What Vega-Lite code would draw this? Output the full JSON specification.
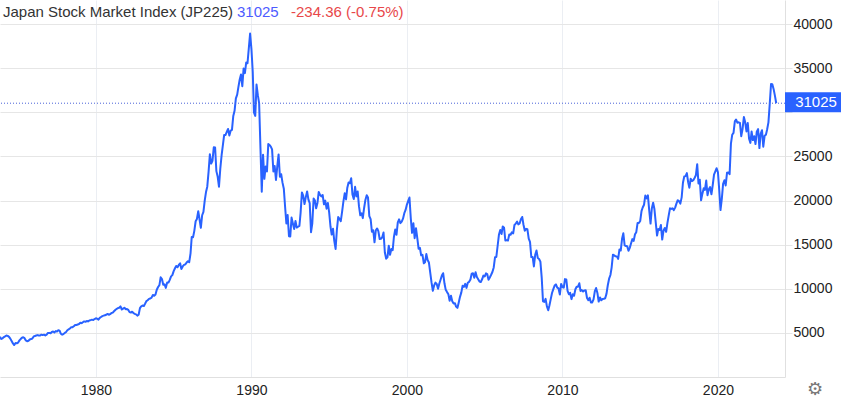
{
"$schema":"https://vega.github.io/schema/vega-lite/v6.json",
"width":785,"height":377,
"autosize":{"type":"none"},
"padding":{"left":0,"top":0,"right":56,"bottom":23},
"background":"white",
"config":{"view":{"stroke":null},"font":"Liberation Sans"},
"datasets":{"nk":[
{"d":"1973-11-01","v":4550},{"d":"1973-12-01","v":4306},
{"d":"1974-01-01","v":4390},{"d":"1974-02-01","v":4520},{"d":"1974-03-01","v":4600},{"d":"1974-04-01","v":4700},{"d":"1974-05-01","v":4660},{"d":"1974-06-01","v":4550},{"d":"1974-07-01","v":4350},{"d":"1974-08-01","v":4080},{"d":"1974-09-01","v":3800},{"d":"1974-10-01","v":3620},{"d":"1974-11-01","v":3850},{"d":"1974-12-01","v":3817},
{"d":"1975-01-01","v":3900},{"d":"1975-02-01","v":4150},{"d":"1975-03-01","v":4300},{"d":"1975-04-01","v":4450},{"d":"1975-05-01","v":4500},{"d":"1975-06-01","v":4400},{"d":"1975-07-01","v":4150},{"d":"1975-08-01","v":4050},{"d":"1975-09-01","v":4100},{"d":"1975-10-01","v":4250},{"d":"1975-11-01","v":4300},{"d":"1975-12-01","v":4359},
{"d":"1976-01-01","v":4600},{"d":"1976-02-01","v":4650},{"d":"1976-03-01","v":4700},{"d":"1976-04-01","v":4750},{"d":"1976-05-01","v":4700},{"d":"1976-06-01","v":4700},{"d":"1976-07-01","v":4800},{"d":"1976-08-01","v":4750},{"d":"1976-09-01","v":4800},{"d":"1976-10-01","v":4700},{"d":"1976-11-01","v":4800},{"d":"1976-12-01","v":4990},
{"d":"1977-01-01","v":5000},{"d":"1977-02-01","v":4950},{"d":"1977-03-01","v":5100},{"d":"1977-04-01","v":5150},{"d":"1977-05-01","v":5050},{"d":"1977-06-01","v":5200},{"d":"1977-07-01","v":5150},{"d":"1977-08-01","v":5300},{"d":"1977-09-01","v":5250},{"d":"1977-10-01","v":4900},{"d":"1977-11-01","v":4800},{"d":"1977-12-01","v":4866},
{"d":"1978-01-01","v":5000},{"d":"1978-02-01","v":5100},{"d":"1978-03-01","v":5300},{"d":"1978-04-01","v":5400},{"d":"1978-05-01","v":5500},{"d":"1978-06-01","v":5650},{"d":"1978-07-01","v":5650},{"d":"1978-08-01","v":5750},{"d":"1978-09-01","v":5900},{"d":"1978-10-01","v":5900},{"d":"1978-11-01","v":5950},{"d":"1978-12-01","v":6001},
{"d":"1979-01-01","v":6150},{"d":"1979-02-01","v":6100},{"d":"1979-03-01","v":6200},{"d":"1979-04-01","v":6300},{"d":"1979-05-01","v":6250},{"d":"1979-06-01","v":6350},{"d":"1979-07-01","v":6300},{"d":"1979-08-01","v":6400},{"d":"1979-09-01","v":6450},{"d":"1979-10-01","v":6500},{"d":"1979-11-01","v":6450},{"d":"1979-12-01","v":6569},
{"d":"1980-01-01","v":6650},{"d":"1980-02-01","v":6600},{"d":"1980-03-01","v":6500},{"d":"1980-04-01","v":6700},{"d":"1980-05-01","v":6800},{"d":"1980-06-01","v":6900},{"d":"1980-07-01","v":6950},{"d":"1980-08-01","v":7000},{"d":"1980-09-01","v":7050},{"d":"1980-10-01","v":7150},{"d":"1980-11-01","v":7050},{"d":"1980-12-01","v":7116},
{"d":"1981-01-01","v":7250},{"d":"1981-02-01","v":7300},{"d":"1981-03-01","v":7450},{"d":"1981-04-01","v":7600},{"d":"1981-05-01","v":7700},{"d":"1981-06-01","v":7800},{"d":"1981-07-01","v":7850},{"d":"1981-08-01","v":8000},{"d":"1981-09-01","v":7650},{"d":"1981-10-01","v":7750},{"d":"1981-11-01","v":7850},{"d":"1981-12-01","v":7681},
{"d":"1982-01-01","v":7700},{"d":"1982-02-01","v":7600},{"d":"1982-03-01","v":7350},{"d":"1982-04-01","v":7300},{"d":"1982-05-01","v":7400},{"d":"1982-06-01","v":7250},{"d":"1982-07-01","v":7150},{"d":"1982-08-01","v":7100},{"d":"1982-09-01","v":6950},{"d":"1982-10-01","v":7050},{"d":"1982-11-01","v":7800},{"d":"1982-12-01","v":8016},
{"d":"1983-01-01","v":8100},{"d":"1983-02-01","v":8050},{"d":"1983-03-01","v":8300},{"d":"1983-04-01","v":8600},{"d":"1983-05-01","v":8700},{"d":"1983-06-01","v":8850},{"d":"1983-07-01","v":8900},{"d":"1983-08-01","v":9000},{"d":"1983-09-01","v":9300},{"d":"1983-10-01","v":9200},{"d":"1983-11-01","v":9350},{"d":"1983-12-01","v":9893},
{"d":"1984-01-01","v":10200},{"d":"1984-02-01","v":10400},{"d":"1984-03-01","v":11300},{"d":"1984-04-01","v":11100},{"d":"1984-05-01","v":10450},{"d":"1984-06-01","v":10500},{"d":"1984-07-01","v":10100},{"d":"1984-08-01","v":10700},{"d":"1984-09-01","v":10700},{"d":"1984-10-01","v":11000},{"d":"1984-11-01","v":11400},{"d":"1984-12-01","v":11542},
{"d":"1985-01-01","v":11990},{"d":"1985-02-01","v":12320},{"d":"1985-03-01","v":12580},{"d":"1985-04-01","v":12430},{"d":"1985-05-01","v":12700},{"d":"1985-06-01","v":12880},{"d":"1985-07-01","v":12240},{"d":"1985-08-01","v":12530},{"d":"1985-09-01","v":12700},{"d":"1985-10-01","v":12770},{"d":"1985-11-01","v":12970},{"d":"1985-12-01","v":13113},
{"d":"1986-01-01","v":13020},{"d":"1986-02-01","v":14000},{"d":"1986-03-01","v":15860},{"d":"1986-04-01","v":15830},{"d":"1986-05-01","v":16560},{"d":"1986-06-01","v":17650},{"d":"1986-07-01","v":17910},{"d":"1986-08-01","v":18790},{"d":"1986-09-01","v":17850},{"d":"1986-10-01","v":16910},{"d":"1986-11-01","v":18330},{"d":"1986-12-01","v":18701},
{"d":"1987-01-01","v":20020},{"d":"1987-02-01","v":21000},{"d":"1987-03-01","v":21570},{"d":"1987-04-01","v":23270},{"d":"1987-05-01","v":25240},{"d":"1987-06-01","v":24180},{"d":"1987-07-01","v":24490},{"d":"1987-08-01","v":26030},{"d":"1987-09-01","v":26010},{"d":"1987-10-01","v":23330},{"d":"1987-11-01","v":22690},{"d":"1987-12-01","v":21564},
{"d":"1988-01-01","v":23620},{"d":"1988-02-01","v":25130},{"d":"1988-03-01","v":26260},{"d":"1988-04-01","v":27430},{"d":"1988-05-01","v":27420},{"d":"1988-06-01","v":27770},{"d":"1988-07-01","v":28100},{"d":"1988-08-01","v":27370},{"d":"1988-09-01","v":27920},{"d":"1988-10-01","v":28000},{"d":"1988-11-01","v":29580},{"d":"1988-12-01","v":30159},
{"d":"1989-01-01","v":31580},{"d":"1989-02-01","v":31990},{"d":"1989-03-01","v":32840},{"d":"1989-04-01","v":33710},{"d":"1989-05-01","v":34270},{"d":"1989-06-01","v":32950},{"d":"1989-07-01","v":34950},{"d":"1989-08-01","v":34430},{"d":"1989-09-01","v":35640},{"d":"1989-10-01","v":35550},{"d":"1989-11-01","v":37270},{"d":"1989-12-01","v":38916},
{"d":"1990-01-01","v":37189},{"d":"1990-02-01","v":34592},{"d":"1990-03-01","v":29980},{"d":"1990-04-01","v":29584},{"d":"1990-05-01","v":33131},{"d":"1990-06-01","v":31940},{"d":"1990-07-01","v":31036},{"d":"1990-08-01","v":25978},{"d":"1990-09-01","v":20984},{"d":"1990-10-01","v":25194},{"d":"1990-11-01","v":22455},{"d":"1990-12-01","v":23849},
{"d":"1991-01-01","v":23293},{"d":"1991-02-01","v":26409},{"d":"1991-03-01","v":26292},{"d":"1991-04-01","v":26111},{"d":"1991-05-01","v":25790},{"d":"1991-06-01","v":23291},{"d":"1991-07-01","v":23900},{"d":"1991-08-01","v":22336},{"d":"1991-09-01","v":23916},{"d":"1991-10-01","v":25222},{"d":"1991-11-01","v":22687},{"d":"1991-12-01","v":22984},
{"d":"1992-01-01","v":22023},{"d":"1992-02-01","v":21339},{"d":"1992-03-01","v":19346},{"d":"1992-04-01","v":17391},{"d":"1992-05-01","v":18348},{"d":"1992-06-01","v":15952},{"d":"1992-07-01","v":15910},{"d":"1992-08-01","v":18061},{"d":"1992-09-01","v":17399},{"d":"1992-10-01","v":16767},{"d":"1992-11-01","v":17684},{"d":"1992-12-01","v":16925},
{"d":"1993-01-01","v":17024},{"d":"1993-02-01","v":17113},{"d":"1993-03-01","v":18591},{"d":"1993-04-01","v":20919},{"d":"1993-05-01","v":20552},{"d":"1993-06-01","v":19591},{"d":"1993-07-01","v":20380},{"d":"1993-08-01","v":21027},{"d":"1993-09-01","v":20106},{"d":"1993-10-01","v":19703},{"d":"1993-11-01","v":16408},{"d":"1993-12-01","v":17417},
{"d":"1994-01-01","v":20229},{"d":"1994-02-01","v":19997},{"d":"1994-03-01","v":19112},{"d":"1994-04-01","v":19725},{"d":"1994-05-01","v":20974},{"d":"1994-06-01","v":20644},{"d":"1994-07-01","v":20462},{"d":"1994-08-01","v":20629},{"d":"1994-09-01","v":19564},{"d":"1994-10-01","v":19990},{"d":"1994-11-01","v":19076},{"d":"1994-12-01","v":19723},
{"d":"1995-01-01","v":18650},{"d":"1995-02-01","v":17053},{"d":"1995-03-01","v":16140},{"d":"1995-04-01","v":16807},{"d":"1995-05-01","v":15437},{"d":"1995-06-01","v":14517},{"d":"1995-07-01","v":16678},{"d":"1995-08-01","v":18117},{"d":"1995-09-01","v":17913},{"d":"1995-10-01","v":17655},{"d":"1995-11-01","v":18744},{"d":"1995-12-01","v":19868},
{"d":"1996-01-01","v":20813},{"d":"1996-02-01","v":20125},{"d":"1996-03-01","v":21407},{"d":"1996-04-01","v":22041},{"d":"1996-05-01","v":21956},{"d":"1996-06-01","v":22531},{"d":"1996-07-01","v":20693},{"d":"1996-08-01","v":20167},{"d":"1996-09-01","v":21556},{"d":"1996-10-01","v":20467},{"d":"1996-11-01","v":21020},{"d":"1996-12-01","v":19361},
{"d":"1997-01-01","v":18330},{"d":"1997-02-01","v":18557},{"d":"1997-03-01","v":18003},{"d":"1997-04-01","v":19151},{"d":"1997-05-01","v":20068},{"d":"1997-06-01","v":20605},{"d":"1997-07-01","v":20331},{"d":"1997-08-01","v":18229},{"d":"1997-09-01","v":17888},{"d":"1997-10-01","v":16459},{"d":"1997-11-01","v":16631},{"d":"1997-12-01","v":15259},
{"d":"1998-01-01","v":16628},{"d":"1998-02-01","v":16832},{"d":"1998-03-01","v":16527},{"d":"1998-04-01","v":15641},{"d":"1998-05-01","v":15671},{"d":"1998-06-01","v":15831},{"d":"1998-07-01","v":16379},{"d":"1998-08-01","v":14108},{"d":"1998-09-01","v":13406},{"d":"1998-10-01","v":13564},{"d":"1998-11-01","v":14884},{"d":"1998-12-01","v":13842},
{"d":"1999-01-01","v":14499},{"d":"1999-02-01","v":14368},{"d":"1999-03-01","v":15837},{"d":"1999-04-01","v":16702},{"d":"1999-05-01","v":16112},{"d":"1999-06-01","v":17530},{"d":"1999-07-01","v":17862},{"d":"1999-08-01","v":17437},{"d":"1999-09-01","v":17605},{"d":"1999-10-01","v":17942},{"d":"1999-11-01","v":18558},{"d":"1999-12-01","v":18934},
{"d":"2000-01-01","v":19540},{"d":"2000-02-01","v":19960},{"d":"2000-03-01","v":20337},{"d":"2000-04-01","v":17974},{"d":"2000-05-01","v":16332},{"d":"2000-06-01","v":17411},{"d":"2000-07-01","v":15727},{"d":"2000-08-01","v":16861},{"d":"2000-09-01","v":15747},{"d":"2000-10-01","v":14539},{"d":"2000-11-01","v":14649},{"d":"2000-12-01","v":13786},
{"d":"2001-01-01","v":13843},{"d":"2001-02-01","v":12884},{"d":"2001-03-01","v":12999},{"d":"2001-04-01","v":13934},{"d":"2001-05-01","v":13262},{"d":"2001-06-01","v":12969},{"d":"2001-07-01","v":11861},{"d":"2001-08-01","v":10714},{"d":"2001-09-01","v":9775},{"d":"2001-10-01","v":10366},{"d":"2001-11-01","v":10697},{"d":"2001-12-01","v":10543},
{"d":"2002-01-01","v":9998},{"d":"2002-02-01","v":10588},{"d":"2002-03-01","v":11025},{"d":"2002-04-01","v":11493},{"d":"2002-05-01","v":11764},{"d":"2002-06-01","v":10622},{"d":"2002-07-01","v":9877},{"d":"2002-08-01","v":9619},{"d":"2002-09-01","v":9383},{"d":"2002-10-01","v":8640},{"d":"2002-11-01","v":9216},{"d":"2002-12-01","v":8579},
{"d":"2003-01-01","v":8340},{"d":"2003-02-01","v":8363},{"d":"2003-03-01","v":7973},{"d":"2003-04-01","v":7831},{"d":"2003-05-01","v":8425},{"d":"2003-06-01","v":9083},{"d":"2003-07-01","v":9563},{"d":"2003-08-01","v":10344},{"d":"2003-09-01","v":10219},{"d":"2003-10-01","v":10560},{"d":"2003-11-01","v":10101},{"d":"2003-12-01","v":10677},
{"d":"2004-01-01","v":10784},{"d":"2004-02-01","v":11042},{"d":"2004-03-01","v":11715},{"d":"2004-04-01","v":11762},{"d":"2004-05-01","v":11236},{"d":"2004-06-01","v":11859},{"d":"2004-07-01","v":11326},{"d":"2004-08-01","v":11082},{"d":"2004-09-01","v":10824},{"d":"2004-10-01","v":10771},{"d":"2004-11-01","v":11069},{"d":"2004-12-01","v":11489},
{"d":"2005-01-01","v":11388},{"d":"2005-02-01","v":11741},{"d":"2005-03-01","v":11669},{"d":"2005-04-01","v":11009},{"d":"2005-05-01","v":11277},{"d":"2005-06-01","v":11584},{"d":"2005-07-01","v":11900},{"d":"2005-08-01","v":12414},{"d":"2005-09-01","v":13574},{"d":"2005-10-01","v":13607},{"d":"2005-11-01","v":14872},{"d":"2005-12-01","v":16111},
{"d":"2006-01-01","v":16650},{"d":"2006-02-01","v":16205},{"d":"2006-03-01","v":17060},{"d":"2006-04-01","v":16907},{"d":"2006-05-01","v":15468},{"d":"2006-06-01","v":15505},{"d":"2006-07-01","v":15457},{"d":"2006-08-01","v":16141},{"d":"2006-09-01","v":16128},{"d":"2006-10-01","v":16399},{"d":"2006-11-01","v":16274},{"d":"2006-12-01","v":17226},
{"d":"2007-01-01","v":17383},{"d":"2007-02-01","v":17604},{"d":"2007-03-01","v":17288},{"d":"2007-04-01","v":17400},{"d":"2007-05-01","v":17876},{"d":"2007-06-01","v":18138},{"d":"2007-07-01","v":17249},{"d":"2007-08-01","v":16569},{"d":"2007-09-01","v":16786},{"d":"2007-10-01","v":16737},{"d":"2007-11-01","v":15681},{"d":"2007-12-01","v":15308},
{"d":"2008-01-01","v":13592},{"d":"2008-02-01","v":13603},{"d":"2008-03-01","v":12526},{"d":"2008-04-01","v":13850},{"d":"2008-05-01","v":14339},{"d":"2008-06-01","v":13481},{"d":"2008-07-01","v":13377},{"d":"2008-08-01","v":13073},{"d":"2008-09-01","v":11260},{"d":"2008-10-01","v":8577},{"d":"2008-11-01","v":8512},{"d":"2008-12-01","v":8860},
{"d":"2009-01-01","v":7994},{"d":"2009-02-01","v":7568},{"d":"2009-03-01","v":8110},{"d":"2009-04-01","v":8828},{"d":"2009-05-01","v":9523},{"d":"2009-06-01","v":9958},{"d":"2009-07-01","v":10357},{"d":"2009-08-01","v":10493},{"d":"2009-09-01","v":10133},{"d":"2009-10-01","v":10035},{"d":"2009-11-01","v":9346},{"d":"2009-12-01","v":10546},
{"d":"2010-01-01","v":10198},{"d":"2010-02-01","v":10126},{"d":"2010-03-01","v":11090},{"d":"2010-04-01","v":11057},{"d":"2010-05-01","v":9769},{"d":"2010-06-01","v":9383},{"d":"2010-07-01","v":9537},{"d":"2010-08-01","v":8824},{"d":"2010-09-01","v":9369},{"d":"2010-10-01","v":9202},{"d":"2010-11-01","v":9937},{"d":"2010-12-01","v":10229},
{"d":"2011-01-01","v":10238},{"d":"2011-02-01","v":10624},{"d":"2011-03-01","v":9755},{"d":"2011-04-01","v":9850},{"d":"2011-05-01","v":9694},{"d":"2011-06-01","v":9816},{"d":"2011-07-01","v":9833},{"d":"2011-08-01","v":8955},{"d":"2011-09-01","v":8700},{"d":"2011-10-01","v":8988},{"d":"2011-11-01","v":8435},{"d":"2011-12-01","v":8455},
{"d":"2012-01-01","v":8803},{"d":"2012-02-01","v":9723},{"d":"2012-03-01","v":10084},{"d":"2012-04-01","v":9521},{"d":"2012-05-01","v":8543},{"d":"2012-06-01","v":9007},{"d":"2012-07-01","v":8695},{"d":"2012-08-01","v":8840},{"d":"2012-09-01","v":8870},{"d":"2012-10-01","v":8928},{"d":"2012-11-01","v":9446},{"d":"2012-12-01","v":10395},
{"d":"2013-01-01","v":11139},{"d":"2013-02-01","v":11559},{"d":"2013-03-01","v":12398},{"d":"2013-04-01","v":13861},{"d":"2013-05-01","v":13775},{"d":"2013-06-01","v":13677},{"d":"2013-07-01","v":13668},{"d":"2013-08-01","v":13389},{"d":"2013-09-01","v":14456},{"d":"2013-10-01","v":14328},{"d":"2013-11-01","v":15662},{"d":"2013-12-01","v":16291},
{"d":"2014-01-01","v":14915},{"d":"2014-02-01","v":14841},{"d":"2014-03-01","v":14828},{"d":"2014-04-01","v":14304},{"d":"2014-05-01","v":14632},{"d":"2014-06-01","v":15162},{"d":"2014-07-01","v":15621},{"d":"2014-08-01","v":15425},{"d":"2014-09-01","v":16174},{"d":"2014-10-01","v":16414},{"d":"2014-11-01","v":17460},{"d":"2014-12-01","v":17451},
{"d":"2015-01-01","v":17674},{"d":"2015-02-01","v":18798},{"d":"2015-03-01","v":19207},{"d":"2015-04-01","v":19520},{"d":"2015-05-01","v":20563},{"d":"2015-06-01","v":20236},{"d":"2015-07-01","v":20585},{"d":"2015-08-01","v":18890},{"d":"2015-09-01","v":17388},{"d":"2015-10-01","v":19083},{"d":"2015-11-01","v":19747},{"d":"2015-12-01","v":19034},
{"d":"2016-01-01","v":17518},{"d":"2016-02-01","v":16027},{"d":"2016-03-01","v":16759},{"d":"2016-04-01","v":16666},{"d":"2016-05-01","v":17235},{"d":"2016-06-01","v":15576},{"d":"2016-07-01","v":16569},{"d":"2016-08-01","v":16887},{"d":"2016-09-01","v":16450},{"d":"2016-10-01","v":17425},{"d":"2016-11-01","v":18308},{"d":"2016-12-01","v":19114},
{"d":"2017-01-01","v":19041},{"d":"2017-02-01","v":19119},{"d":"2017-03-01","v":18909},{"d":"2017-04-01","v":19197},{"d":"2017-05-01","v":19651},{"d":"2017-06-01","v":20033},{"d":"2017-07-01","v":19925},{"d":"2017-08-01","v":19646},{"d":"2017-09-01","v":20356},{"d":"2017-10-01","v":22012},{"d":"2017-11-01","v":22725},{"d":"2017-12-01","v":22765},
{"d":"2018-01-01","v":23098},{"d":"2018-02-01","v":22068},{"d":"2018-03-01","v":21454},{"d":"2018-04-01","v":22468},{"d":"2018-05-01","v":22202},{"d":"2018-06-01","v":22305},{"d":"2018-07-01","v":22554},{"d":"2018-08-01","v":22865},{"d":"2018-09-01","v":24120},{"d":"2018-10-01","v":21920},{"d":"2018-11-01","v":22351},{"d":"2018-12-01","v":20015},
{"d":"2019-01-01","v":20773},{"d":"2019-02-01","v":21385},{"d":"2019-03-01","v":21206},{"d":"2019-04-01","v":22259},{"d":"2019-05-01","v":20601},{"d":"2019-06-01","v":21276},{"d":"2019-07-01","v":21522},{"d":"2019-08-01","v":20704},{"d":"2019-09-01","v":21756},{"d":"2019-10-01","v":22927},{"d":"2019-11-01","v":23294},{"d":"2019-12-01","v":23657},
{"d":"2020-01-01","v":23205},{"d":"2020-02-01","v":21143},{"d":"2020-03-01","v":18917},{"d":"2020-04-01","v":20194},{"d":"2020-05-01","v":21878},{"d":"2020-06-01","v":22288},{"d":"2020-07-01","v":21710},{"d":"2020-08-01","v":23140},{"d":"2020-09-01","v":23185},{"d":"2020-10-01","v":22977},{"d":"2020-11-01","v":26434},{"d":"2020-12-01","v":27444},
{"d":"2021-01-01","v":27663},{"d":"2021-02-01","v":28966},{"d":"2021-03-01","v":29179},{"d":"2021-04-01","v":28813},{"d":"2021-05-01","v":28860},{"d":"2021-06-01","v":28792},{"d":"2021-07-01","v":27284},{"d":"2021-08-01","v":28090},{"d":"2021-09-01","v":29453},{"d":"2021-10-01","v":28893},{"d":"2021-11-01","v":27822},{"d":"2021-12-01","v":28792},
{"d":"2022-01-01","v":27002},{"d":"2022-02-01","v":26527},{"d":"2022-03-01","v":27821},{"d":"2022-04-01","v":26848},{"d":"2022-05-01","v":27280},{"d":"2022-06-01","v":26393},{"d":"2022-07-01","v":27802},{"d":"2022-08-01","v":28092},{"d":"2022-09-01","v":25937},{"d":"2022-10-01","v":27587},{"d":"2022-11-01","v":27969},{"d":"2022-12-01","v":26095},
{"d":"2023-01-01","v":27327},{"d":"2023-02-01","v":27446},{"d":"2023-03-01","v":28041},{"d":"2023-04-01","v":28856},{"d":"2023-05-01","v":30888},{"d":"2023-06-01","v":33189},{"d":"2023-07-01","v":33172},{"d":"2023-08-01","v":32619},{"d":"2023-09-01","v":31858},{"d":"2023-10-01","v":31025}
]},
"layer":[
{"data":{"name":"nk"},
 "mark":{"type":"line","color":"#2962ff","strokeWidth":2,"strokeJoin":"round"},
 "encoding":{
  "x":{"field":"d","type":"temporal",
   "scale":{"type":"utc","domain":[{"year":1973,"month":11,"date":1,"utc":true},{"year":2024,"month":4,"date":24,"utc":true}]},
   "axis":{"title":null,"values":[{"year":1980,"month":1,"date":1,"utc":true},{"year":1990,"month":1,"date":1,"utc":true},{"year":2000,"month":1,"date":1,"utc":true},{"year":2010,"month":1,"date":1,"utc":true},{"year":2020,"month":1,"date":1,"utc":true}],
    "format":"%Y","ticks":false,"labelPadding":6,"labelFontSize":14,"labelColor":"#222","labelFont":"Liberation Sans",
    "grid":true,"gridColor":"#ebeef3","domainColor":"#e0e0e0","labelFlush":false}},
  "y":{"field":"v","type":"quantitative",
   "scale":{"domain":[0,42720],"nice":false,"zero":false},
   "axis":{"title":null,"orient":"right","values":[5000,10000,15000,20000,25000,30000,35000,40000],
    "labelExpr":"datum.value == 30000 ? '' : datum.label",
    "labelAlign":"left","labelPadding":1,"tickSize":7,"tickColor":"#e6e6e6","labelFontSize":14,"labelColor":"#222","labelFont":"Liberation Sans",
    "grid":true,"gridColor":"#e6e6e6","domainColor":"#e0e0e0","format":"d","labelFlush":false}}
 }},
{"data":{"values":[{"last":31025}]},
 "mark":{"type":"rule","color":"#4a62d8","strokeDash":[1,2],"strokeWidth":1},
 "encoding":{"y":{"field":"last","type":"quantitative"}}},
{"data":{"values":[{"last":31025}]},
 "mark":{"type":"rect","color":"#2962ff","yOffset":-11,"y2Offset":9},
 "encoding":{"x":{"value":785},"x2":{"value":841},"y":{"field":"last","type":"quantitative"},"y2":{"field":"last"}}},
{"data":{"values":[{"last":31025}]},
 "mark":{"type":"text","color":"white","fontSize":15,"align":"center","baseline":"middle","font":"Liberation Sans","dy":-1},
 "encoding":{"x":{"value":816},"y":{"field":"last","type":"quantitative"},"text":{"field":"last","type":"quantitative","format":"d"}}},
{"data":{"values":[{"t":"Japan Stock Market Index (JP225)"}]},
 "mark":{"type":"text","color":"#333333","fontSize":15,"align":"left","baseline":"middle","font":"Liberation Sans"},
 "encoding":{"x":{"value":3},"y":{"value":12},"text":{"field":"t"}}},
{"data":{"values":[{"t":"31025"}]},
 "mark":{"type":"text","color":"#4d5bff","fontSize":15,"align":"left","baseline":"middle","font":"Liberation Sans"},
 "encoding":{"x":{"value":237},"y":{"value":12},"text":{"field":"t"}}},
{"data":{"values":[{"t":"-234.36 (-0.75%)"}]},
 "mark":{"type":"text","color":"#e8474a","fontSize":15,"align":"left","baseline":"middle","font":"Liberation Sans"},
 "encoding":{"x":{"value":291},"y":{"value":12},"text":{"field":"t"}}},
{"data":{"values":[{"t":"⚙"}]},
 "mark":{"type":"text","color":"#777777","fontSize":18,"align":"center","baseline":"middle","font":"DejaVu Sans"},
 "encoding":{"x":{"value":815},"y":{"value":390},"text":{"field":"t"}}}
]
}
